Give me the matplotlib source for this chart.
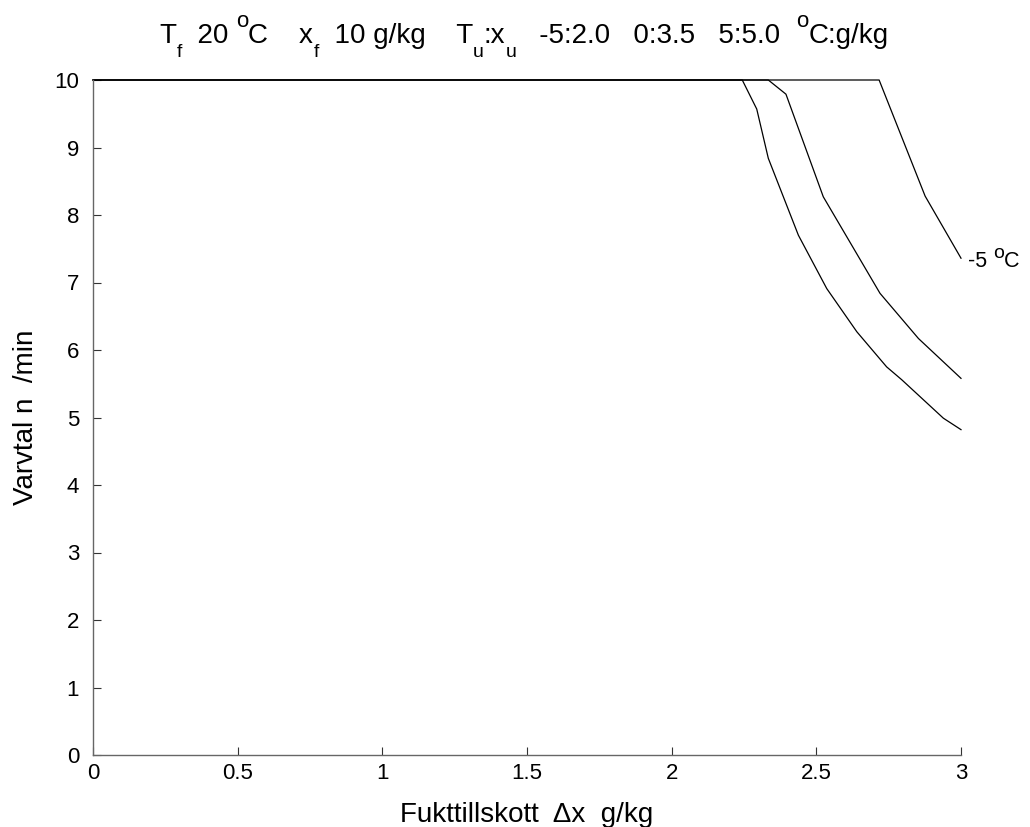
import matplotlib
matplotlib.use("Agg")
import matplotlib.pyplot as plt
from matplotlib.transforms import IdentityTransform

plt.rcParams["font.family"] = ["Liberation Sans", "DejaVu Sans"]

# curves of speed n (1/min) vs moisture addition dx (g/kg), capped at 10
x_5 = [0.0, 2.244, 2.294, 2.334, 2.438, 2.536, 2.640, 2.743, 2.795, 2.939, 3.0]
n_5 = [10.0, 10.0, 9.57, 8.84, 7.70, 6.91, 6.27, 5.75, 5.56, 4.99, 4.82]

x_0 = [0.0, 2.334, 2.395, 2.524, 2.720, 2.853, 3.0]
n_0 = [10.0, 10.0, 9.79, 8.27, 6.84, 6.17, 5.58]

x_m5 = [0.0, 2.717, 2.876, 3.0]
n_m5 = [10.0, 10.0, 8.28, 7.36]

xticks = [0, 0.5, 1, 1.5, 2, 2.5, 3]
xticklabels = ["0", "0.5", "1", "1.5", "2", "2.5", "3"]
yticks = list(range(0, 11))

# title pieces: (text, kind) with kind n=normal, sub, sup
title_parts = [
    ("T", "n"), ("f", "sub"), ("  20 ", "n"), ("o", "sup"), ("C    x", "n"),
    ("f", "sub"), ("  10 g/kg    T", "n"), ("u", "sub"), (":x", "n"), ("u", "sub"),
    ("   -5:2.0   0:3.5   5:5.0  ", "n"), ("o", "sup"), ("C:g/kg", "n"),
]
label_parts = [("-5 ", "n"), ("o", "sup"), ("C", "n")]


def text_width(fig, renderer, s, size):
    # measure with guard characters so spaces are counted
    a = fig.text(0, 0, "|" + s + "|", fontsize=size, transform=IdentityTransform())
    b = fig.text(0, 0, "||", fontsize=size, transform=IdentityTransform())
    w = a.get_window_extent(renderer).width - b.get_window_extent(renderer).width
    a.remove()
    b.remove()
    return w


def draw_rich(fig, parts, x, y, size, sub_size, sup_size, sub_dy, sup_dy, ha="center"):
    renderer = fig.canvas.get_renderer()
    sizes = {"n": size, "sub": sub_size, "sup": sup_size}
    offs = {"n": 0, "sub": -sub_dy, "sup": sup_dy}
    widths = [text_width(fig, renderer, s, sizes[k]) for s, k in parts]
    total = sum(widths)
    cx = x - total / 2 if ha == "center" else x
    for (s, k), w in zip(parts, widths):
        fig.text(cx, y + offs[k], s, fontsize=sizes[k], va="baseline", ha="left",
                 transform=IdentityTransform())
        cx += w


W, H = 1030, 827
fig = plt.figure(figsize=(W / 100, H / 100), dpi=100)
ax = fig.add_axes([93 / W, 1 - 755 / H, (961 - 93) / W, (755 - 80) / H])

for xs, ns in [(x_5, n_5), (x_0, n_0), (x_m5, n_m5)]:
    ax.plot(xs, ns, color="black", linewidth=0.9, clip_on=False)

ax.set_xlim(0, 3)
ax.set_ylim(0, 10)
ax.set_xticks(xticks)
ax.set_xticklabels(xticklabels)
ax.set_yticks(yticks)

for side in ["top", "right"]:
    ax.spines[side].set_visible(False)
for side in ["left", "bottom"]:
    ax.spines[side].set_color("#666666")
    ax.spines[side].set_linewidth(1.0)

ax.tick_params(direction="in", length=6, width=0.8, color="#333333", labelsize=16)
ax.tick_params(axis="x", pad=6)
ax.tick_params(axis="y", pad=10)

ax.set_xlabel("Fukttillskott  \u0394x  g/kg", fontsize=20, labelpad=13)
ax.set_ylabel("Varvtal n  /min", fontsize=20, labelpad=11)

# title with raised/lowered pieces
draw_rich(fig, title_parts, 524, H - 42.7, 20, 14, 16, 14, 15.5)

# curve label at end of the -5 degC curve
ex, ey = ax.transData.transform((x_m5[-1], n_m5[-1]))
draw_rich(fig, label_parts, ex + 7, ey - 8.7, 15.5, 14, 14, 0, 9, ha="left")

fig.savefig("out.png", dpi=100, facecolor="white")
